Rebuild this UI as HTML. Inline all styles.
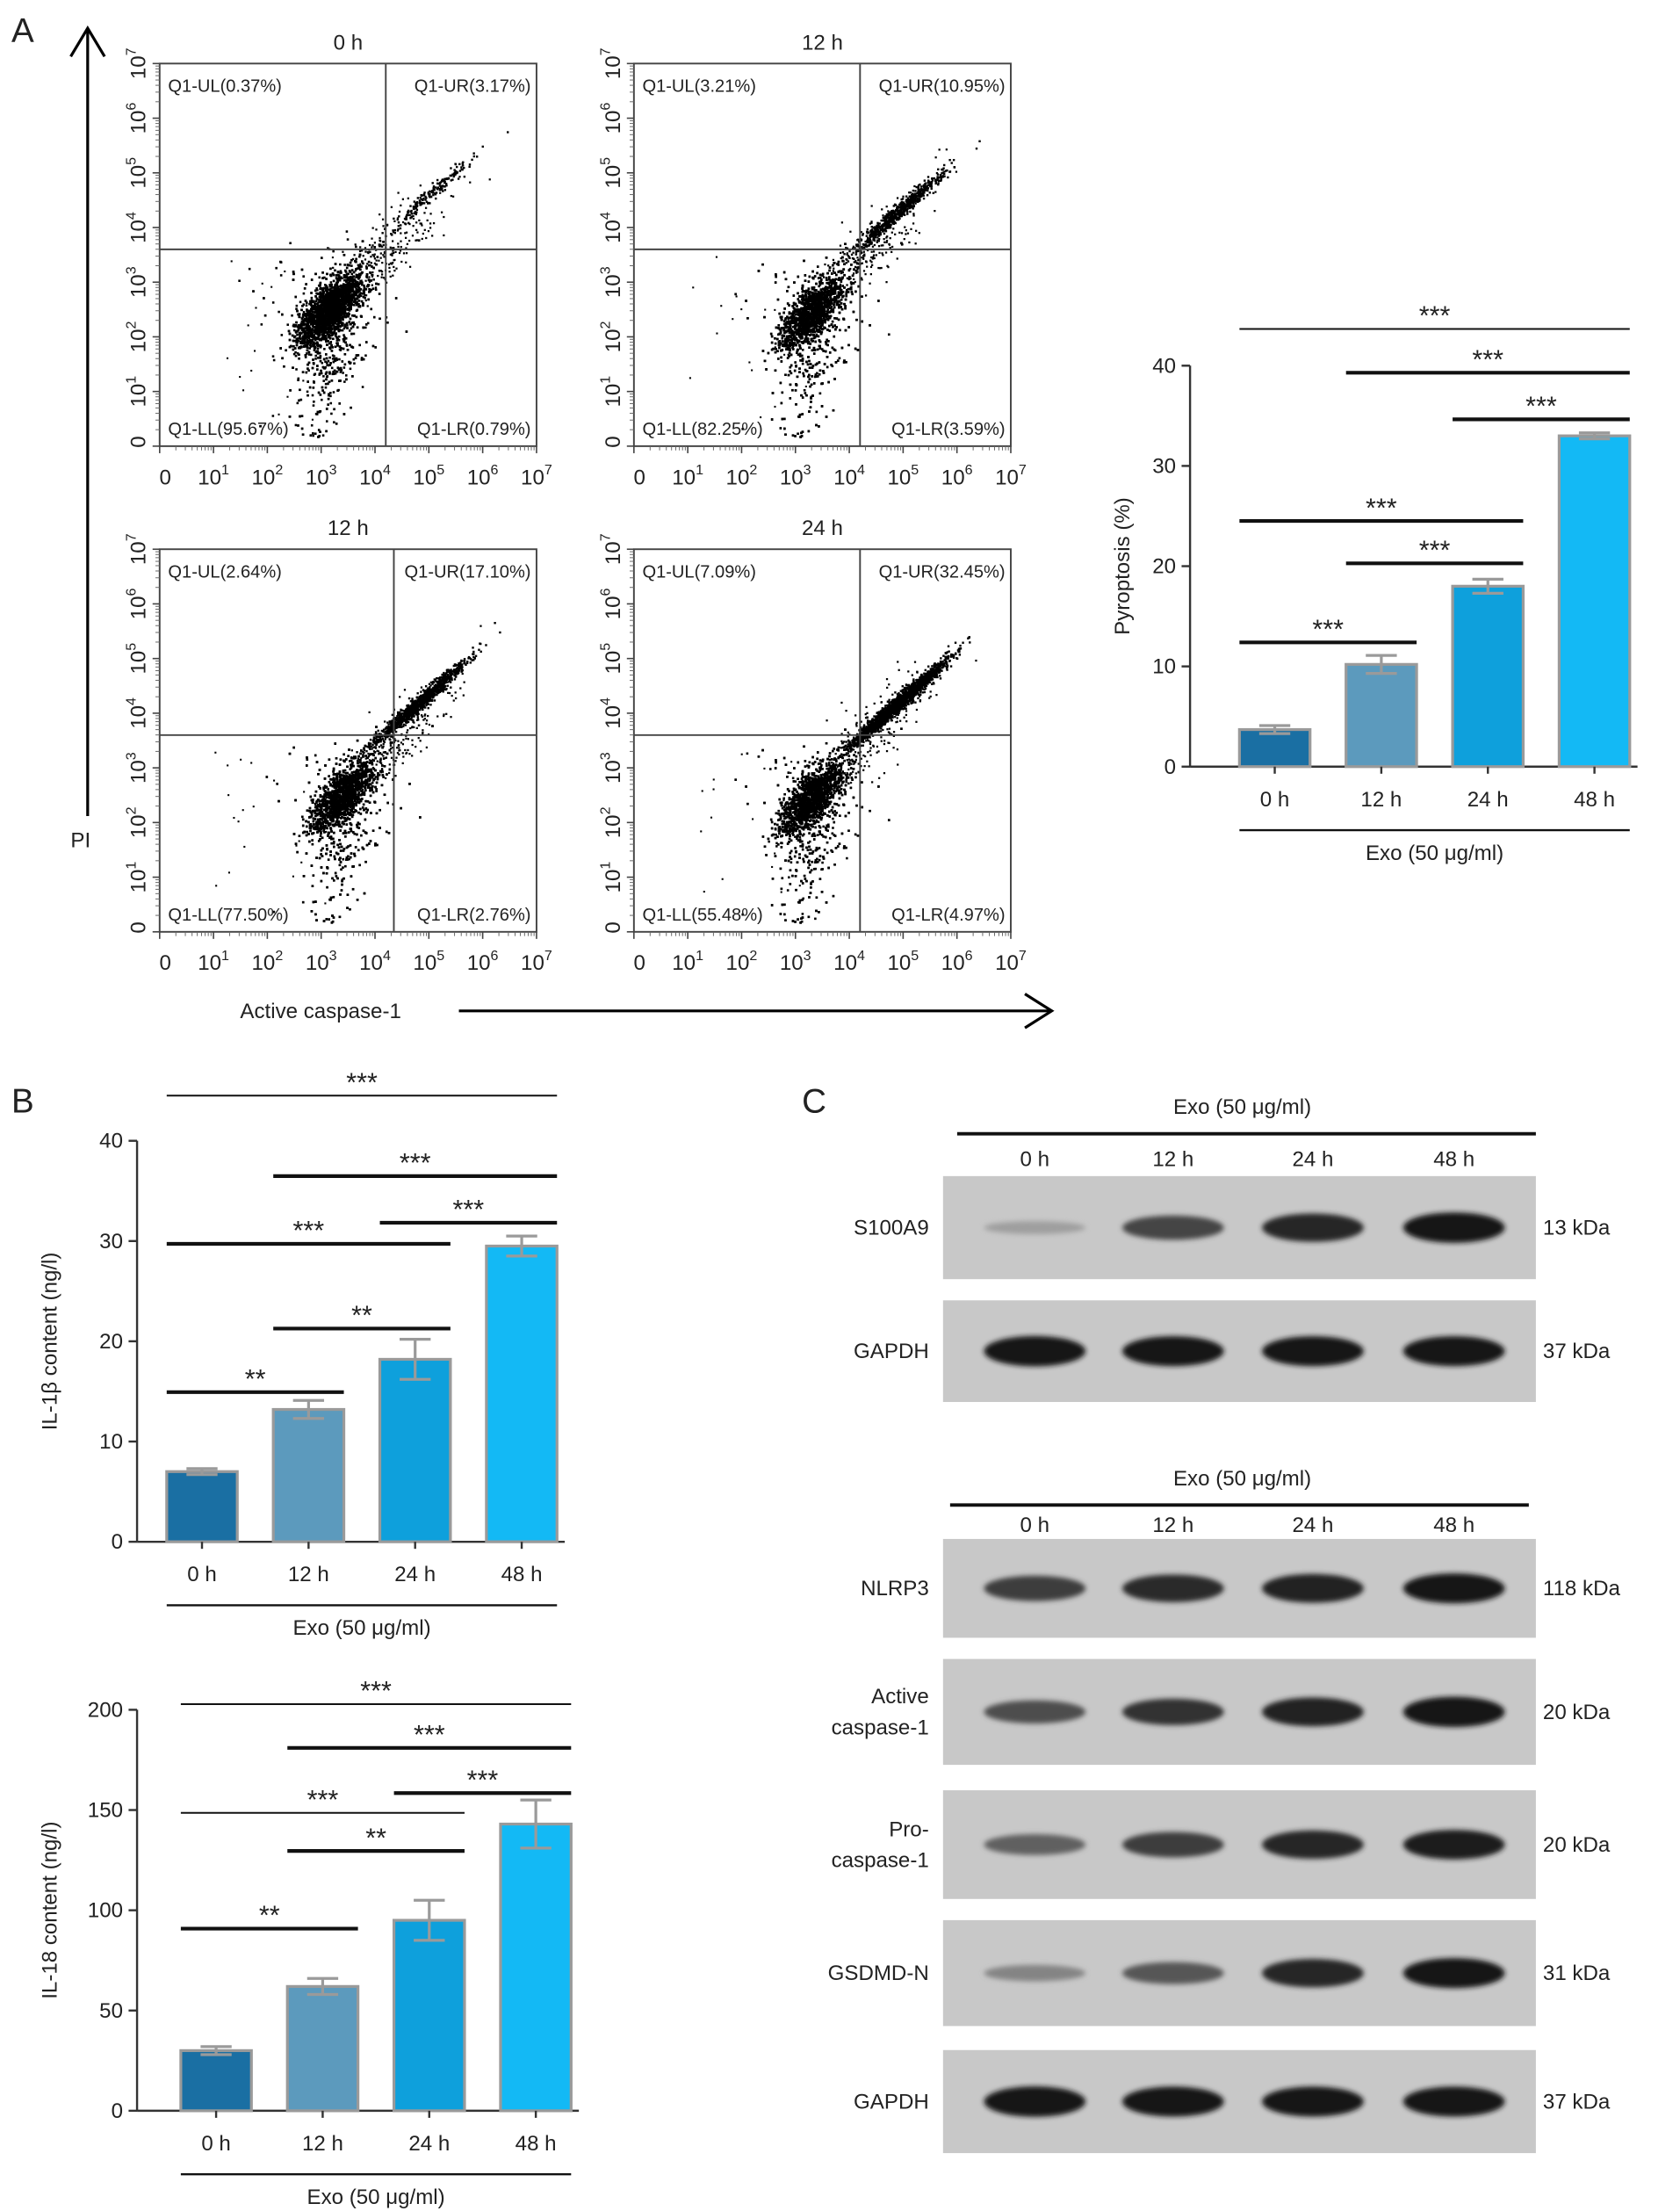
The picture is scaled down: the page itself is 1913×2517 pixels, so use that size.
<!DOCTYPE html>
<html><head><meta charset="utf-8">
<style>
html,body{margin:0;padding:0;background:#fff;}
svg{display:block;}
text{font-family:"Liberation Sans",Arial,sans-serif;fill:#222;}
</style></head>
<body>
<svg id="fig" width="1913" height="2517" viewBox="0 0 1190 1566" xmlns="http://www.w3.org/2000/svg">
<defs>
<filter id="blur" x="-30%" y="-100%" width="160%" height="300%"><feGaussianBlur stdDeviation="1.8"/></filter>
</defs>
<text x="8" y="30" font-size="24">A</text>
<text x="8" y="788" font-size="24">B</text>
<text x="568" y="788" font-size="24">C</text>
<g>
<line x1="62" y1="22" x2="62" y2="578" stroke="#000" stroke-width="2"/>
<polyline points="50,40 62,20 74,40" fill="none" stroke="#000" stroke-width="2"/>
</g>
<text x="57" y="600" font-size="15" text-anchor="middle">PI</text>
<text x="170" y="721" font-size="15">Active caspase-1</text>
<g>
<line x1="325" y1="716" x2="744" y2="716" stroke="#000" stroke-width="2"/>
<polyline points="726,704 745,716 726,728" fill="none" stroke="#000" stroke-width="2"/>
</g>
<g id="flow"></g>
<g id="bars"></g>
<g id="blots"></g>
</svg>
<script>
var NS="http://www.w3.org/2000/svg";
function mk(tag,attrs,parent){var e=document.createElementNS(NS,tag);for(var k in attrs)e.setAttribute(k,attrs[k]);if(parent)parent.appendChild(e);return e;}
function txt(s,attrs,parent){var e=mk('text',attrs,parent);e.textContent=s;return e;}

/* ---------- Flow cytometry plots ---------- */
var flowTitles=["0 h","12 h","12 h","24 h"];
var flowUL=["0.37%","3.21%","2.64%","7.09%"];
var flowUR=["3.17%","10.95%","17.10%","32.45%"];
var flowLL=["95.67%","82.25%","77.50%","55.48%"];
var flowLR=["0.79%","3.59%","2.76%","4.97%"];
var gateX=[4.2,4.2,4.35,4.2];
var gateY=[3.6,3.6,3.6,3.6];
var cloudX=[3.15,3.3,3.4,3.3];
var cloudY=[2.55,2.5,2.55,2.5];
var upperX=[5.0,4.9,4.8,4.9];
var upperY=[4.6,4.3,4.2,4.2];
var boxes=[[113,45],[449,45],[113,389],[449,389]];
var BW=267,BH=271;
var seed=12345;
function rnd(){seed=(seed*1103515245+12345)&0x7fffffff;return seed/0x7fffffff;}
function gauss(){var u=rnd()||1e-6,v=rnd();return Math.sqrt(-2*Math.log(u))*Math.cos(2*Math.PI*v);}
var flowG=document.getElementById('flow');
for(var p=0;p<4;p++){
  var bx=boxes[p][0],by=boxes[p][1];
  var sx=function(d){return bx+d/7*BW;};
  var sy=function(d){return by+BH-d/7*BH;};
  var g=mk('g',{},flowG);
  
  
  var t=txt(flowTitles[p],{x:bx+BW/2,y:by-10,'font-size':15,'text-anchor':'middle'},g);
  
  
  var dots=mk('g',{fill:'#000'},g);
  
  
  var nMain=4200, nUp=Math.round(parseFloat(flowUR[p])*60);
  for(var i=0;i<nMain;i++){
    var dx=gauss()*0.3, dy=gauss()*0.32;
    var X=cloudX[p]+dx*0.9+dy*0.3, Y=cloudY[p]+dy*0.9+dx*0.45;
    if(rnd()<0.18){Y-=Math.abs(gauss())*0.9;X+=gauss()*0.1;}
    if(rnd()<0.08){X+=gauss()*0.5;Y+=gauss()*0.5;}
    if(Y<0.15)Y=0.15+rnd()*0.2; if(X<0.2)continue;
    mk('rect',{x:sx(X).toFixed(1),y:sy(Y).toFixed(1),width:1.6,height:1.6},dots);
  }
  for(var i=0;i<nUp;i++){
    var a=gauss(),b=gauss();
    var X=upperX[p]+a*0.4+b*0.15, Y=upperY[p]+a*0.32+b*0.2;
    mk('rect',{x:sx(X).toFixed(1),y:sy(Y).toFixed(1),width:1.5,height:1.5},dots);
  }
  for(var i=0;i<200;i++){
    var a=gauss();
    var X=cloudX[p]+0.6+Math.abs(a)*0.7+gauss()*0.2, Y=cloudY[p]+0.6+Math.abs(a)*0.7+gauss()*0.25;
    mk('rect',{x:sx(X).toFixed(1),y:sy(Y).toFixed(1),width:1.4,height:1.4},dots);
  }
  for(var i=0;i<20;i++){
    var X=1+rnd()*2.2,Y=0.5+rnd()*3;
    mk('rect',{x:sx(X).toFixed(1),y:sy(Y).toFixed(1),width:1.3,height:1.3},dots);
  }
  var fr=mk('rect',{x:bx,y:by,width:BW,height:BH,fill:'none',stroke:'#444','stroke-width':1.2},g);
  
  
  mk('line',{x1:sx(gateX[p]),x2:sx(gateX[p]),y1:by,y2:by+BH,stroke:'#444','stroke-width':1.2},g);
  mk('line',{x1:bx,x2:bx+BW,y1:sy(gateY[p]),y2:sy(gateY[p]),stroke:'#444','stroke-width':1.2},g);
  var labs=[["Q1-UL("+flowUL[p]+")",bx+6,by+20,'start'],["Q1-UR("+flowUR[p]+")",bx+BW-4,by+20,'end'],
            ["Q1-LL("+flowLL[p]+")",bx+6,by+BH-8,'start'],["Q1-LR("+flowLR[p]+")",bx+BW-4,by+BH-8,'end']];
  for(var q=0;q<4;q++){
    var ql=txt(labs[q][0],{x:labs[q][1],y:labs[q][2],'font-size':12.5,'text-anchor':labs[q][3],fill:'#333'},g);
    
    
  }
  for(var k=0;k<=7;k++){
    var xx=sx(k);
    mk('line',{x1:xx,x2:xx,y1:by+BH,y2:by+BH+5,stroke:'#444'},g);
    var yy=sy(k);
    mk('line',{x1:bx-5,x2:bx,y1:yy,y2:yy,stroke:'#444'},g);
    for(var m=2;m<10&&k<7;m++){
      var f=k+Math.log10(m);
      mk('line',{x1:sx(f),x2:sx(f),y1:by+BH,y2:by+BH+3,stroke:'#666','stroke-width':0.6},g);
      mk('line',{x1:bx-3,x2:bx,y1:sy(f),y2:sy(f),stroke:'#666','stroke-width':0.6},g);
    }
    var xl=mk('text',{x:xx+(k==0?4:0),y:by+BH+27,'font-size':15,'text-anchor':'middle'},g);
    
    
    if(k==0){xl.textContent='0';}else{
      var t1=mk('tspan',{},xl);t1.textContent='10';
      var t2=mk('tspan',{dy:-7,'font-size':10},xl);t2.textContent=String(k);
    }
    var yl=mk('text',{x:0,y:0,'font-size':15,'text-anchor':'middle',transform:'translate('+(bx-10)+','+(yy+(k==0?-3:0))+') rotate(-90)'},g);
    
    
    if(k==0){yl.textContent='0';}else{
      var t1=mk('tspan',{},yl);t1.textContent='10';
      var t2=mk('tspan',{dy:-7,'font-size':10},yl);t2.textContent=String(k);
    }
  }
}

/* ---------- Bar charts ---------- */
var barCats=["0 h","12 h","24 h","48 h"];
var barColors=["#1a6fa3","#5c9abd","#0ea0dc","#13b9f5"];
var pyroValues=[3.7,10.2,18.0,33.0];
var pyroErrors=[0.4,0.9,0.7,0.3];
var pyroTicks=[0,10,20,30,40];
var il1bValues=[7.0,13.2,18.2,29.5];
var il1bErrors=[0.3,0.9,2.0,1.0];
var il1bTicks=[0,10,20,30,40];
var il18Values=[30,62,95,143];
var il18Errors=[2,4,10,12];
var il18Ticks=[0,50,100,150,200];
var pyroSig=["***","***","***","***","***","***"];
var il1bSig=["***","***","***","***","**","**"];
var il18Sig=["***","***","***","***","**","**"];

function barChart(o){
  var g=mk('g',{},document.getElementById('bars'));
  
  
  var maxV=o.ticks[o.ticks.length-1];
  var sy=function(v){return o.y0-v/maxV*(o.y0-o.yTop);};
  var sx=function(i){return o.x0+o.first+i*o.step;};
  mk('line',{x1:o.x0,x2:o.x0,y1:o.yTop,y2:o.y0,stroke:'#333','stroke-width':1.5},g);
  mk('line',{x1:o.x0,x2:o.xEnd,y1:o.y0,y2:o.y0,stroke:'#333','stroke-width':1.5},g);
  for(var i=0;i<o.ticks.length;i++){
    var y=sy(o.ticks[i]);
    mk('line',{x1:o.x0-6,x2:o.x0,y1:y,y2:y,stroke:'#333','stroke-width':1.5},g);
    var tl=txt(String(o.ticks[i]),{x:o.x0-10,y:y+5,'font-size':15,'text-anchor':'end'},g);
    
    
  }
  var yt=txt(o.ylabel,{x:0,y:0,'font-size':15,'text-anchor':'middle',transform:'translate('+o.ylx+','+((o.y0+o.yTop)/2)+') rotate(-90)'},g);
  
  
  for(var i=0;i<o.values.length;i++){
    var cx=sx(i),v=o.values[i],e=o.errors[i];
    var b=mk('rect',{x:cx-o.bw/2,y:sy(v),width:o.bw,height:o.y0-sy(v),fill:barColors[i],stroke:'#9a9a9a','stroke-width':2},g);
    
    
    var eb=mk('g',{stroke:'#9a9a9a','stroke-width':2},g);
    
    
    mk('line',{x1:cx,x2:cx,y1:sy(v+e),y2:sy(v-e)},eb);
    mk('line',{x1:cx-11,x2:cx+11,y1:sy(v+e),y2:sy(v+e)},eb);
    mk('line',{x1:cx-11,x2:cx+11,y1:sy(v-e),y2:sy(v-e)},eb);
    mk('line',{x1:cx,x2:cx,y1:o.y0,y2:o.y0+5,stroke:'#333','stroke-width':1.5},g);
    var cl=txt(barCats[i],{x:cx,y:o.y0+28,'font-size':15,'text-anchor':'middle'},g);
    
    
  }
  mk('line',{x1:sx(0)-25,x2:sx(3)+25,y1:o.y0+45,y2:o.y0+45,stroke:'#111','stroke-width':1.5},g);
  var ex=txt('Exo (50 μg/ml)',{x:(sx(0)+sx(3))/2,y:o.y0+66,'font-size':15,'text-anchor':'middle'},g);
  
  
  for(var j=0;j<o.sig.length;j++){
    var s=o.sig[j];
    var x1=sx(s[0])-25,x2=sx(s[1])+25;
    var sl=mk('line',{x1:x1,x2:x2,y1:s[2],y2:s[2],stroke:'#111','stroke-width':s[3]?2.6:1.3},g);
    
    
    var st=txt(o.stars[j],{x:(x1+x2)/2,y:s[2]-3,'font-size':19,'text-anchor':'middle'},g);
    
    
  }
}
barChart({name:'pyroptosis-chart',x0:843,xEnd:1160,y0:543,yTop:259,first:60,step:75.5,bw:50,ticks:pyroTicks,values:pyroValues,errors:pyroErrors,
  ylabel:'Pyroptosis (%)',ylx:800,stars:pyroSig,sig:[[0,3,233,0],[1,3,264,1],[2,3,297,1],[0,2,369,1],[1,2,399,1],[0,1,455,1]]});
barChart({name:'il1b-chart',x0:97,xEnd:400,y0:1092,yTop:808,first:46,step:75.5,bw:50,ticks:il1bTicks,values:il1bValues,errors:il1bErrors,
  ylabel:'IL-1β content (ng/l)',ylx:40,stars:il1bSig,sig:[[0,3,776,0],[1,3,833,1],[2,3,866,1],[0,2,881,1],[1,2,941,1],[0,1,986,1]]});
barChart({name:'il18-chart',x0:97,xEnd:410,y0:1495,yTop:1211,first:56,step:75.5,bw:50,ticks:il18Ticks,values:il18Values,errors:il18Errors,
  ylabel:'IL-18 content (ng/l)',ylx:40,stars:il18Sig,sig:[[0,3,1207,0],[1,3,1238,1],[2,3,1270,1],[0,2,1284,0],[1,2,1311,1],[0,1,1366,1]]});

/* ---------- Western blots ---------- */
var laneX=[733,831,930,1030];
var blotNames=[["S100A9"],["GAPDH"],["NLRP3"],["Active","caspase-1"],["Pro-","caspase-1"],["GSDMD-N"],["GAPDH"]];
var blotKda=["13 kDa","37 kDa","118 kDa","20 kDa","20 kDa","31 kDa","37 kDa"];
var blotTop=[833,921,1090,1175,1268,1360,1452];
var blotH=[73,72,70,75,77,75,73];
var bandInt=[[0.2,0.7,0.88,0.97],[0.97,0.95,0.95,0.95],[0.75,0.85,0.9,0.95],[0.65,0.8,0.9,0.97],[0.55,0.75,0.88,0.93],[0.35,0.6,0.88,0.95],[0.97,0.95,0.95,0.95]];
var bg=document.getElementById('blots');
function header(y,lanesY,lineX1,lineX2){
  var h=txt('Exo (50 μg/ml)',{x:880,y:y,'font-size':15,'text-anchor':'middle'},bg);
  
  
  mk('line',{x1:lineX1,x2:lineX2,y1:y+14,y2:y+14,stroke:'#111','stroke-width':2.4},bg);
  for(var i=0;i<4;i++){
    var l=txt(['0 h','12 h','24 h','48 h'][i],{x:laneX[i],y:lanesY,'font-size':15,'text-anchor':'middle'},bg);
    
    
  }
}
header(789,826,678,1088);header(1052,1085,673,1083);
for(var b=0;b<blotNames.length;b++){
  var g=mk('g',{},bg);
  
  
  mk('rect',{x:668,y:blotTop[b],width:420,height:blotH[b],fill:'#c8c8c8'},g);
  var cy=blotTop[b]+blotH[b]/2;
  for(var i=0;i<4;i++){
    var it=bandInt[b][i];
    var c=Math.round(195-180*it);
    mk('ellipse',{cx:laneX[i],cy:cy,rx:36,ry:3+8*it,fill:'rgb('+c+','+c+','+c+')',filter:'url(#blur)'},g);
  }
  var nm=blotNames[b];
  for(var k=0;k<nm.length;k++){
    var dy=nm.length==1?5:(k==0?-6:16);
    var n=txt(nm[k],{x:658,y:cy+dy,'font-size':15,'text-anchor':'end'},g);
    
    
  }
  var kd=txt(blotKda[b],{x:1093,y:cy+5,'font-size':15},g);
  
  
}
</script>
</body></html>
